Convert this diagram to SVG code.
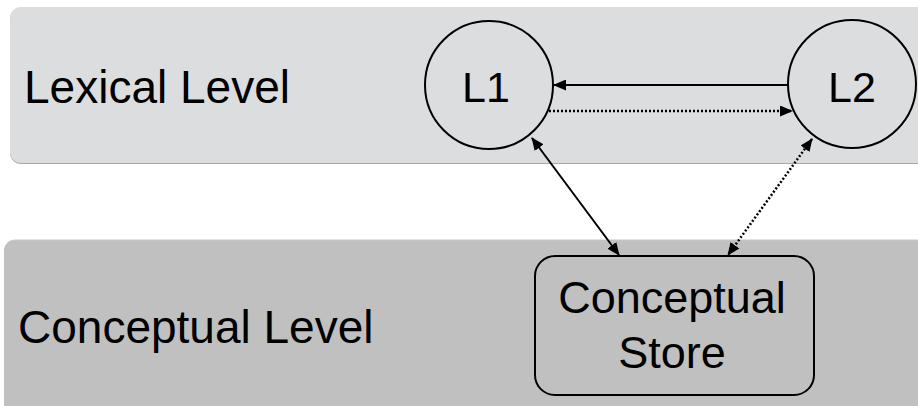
<svg xmlns="http://www.w3.org/2000/svg" width="918" height="406" viewBox="0 0 918 406">
<defs>
<marker id="ah" markerWidth="13" markerHeight="11" refX="12" refY="5.5" orient="auto-start-reverse" markerUnits="userSpaceOnUse">
<path d="M0,0 L13,5.5 L0,11 Z" fill="#000"/>
</marker>
<style>
.lbl{font-family:"Liberation Sans",Arial,Helvetica,sans-serif;fill:#000}
.node{fill:none;stroke:#000;stroke-width:2}
.ln{stroke:#000;stroke-width:2;fill:none}
.dot{stroke:#000;stroke-width:2.5;fill:none;stroke-dasharray:2 2}
</style>
</defs>
<rect width="918" height="406" fill="#fff"/>
<g id="lexical-band">
<rect x="10" y="8" width="930" height="156" rx="11" fill="#a8a8a8"/>
<rect x="10" y="7" width="930" height="156" rx="11" fill="#dcdddf"/>
<text class="lbl" x="24" y="103" font-size="46">Lexical Level</text>
</g>
<g id="conceptual-band">
<rect x="4" y="239.5" width="940" height="190" rx="11" fill="#c8c8c8"/>
<rect x="4" y="240.5" width="940" height="190" rx="11" fill="#c0c0c0"/>
<text class="lbl" x="18" y="343" font-size="46">Conceptual Level</text>
</g>
<g id="L1">
<circle class="node" cx="489" cy="85" r="64"/>
<text class="lbl" x="486" y="102" font-size="43" text-anchor="middle">L1</text>
</g>
<g id="L2">
<circle class="node" cx="852" cy="84" r="64"/>
<text class="lbl" x="852" y="102" font-size="43" text-anchor="middle">L2</text>
</g>
<g id="store">
<rect class="node" x="535" y="256" width="279" height="139" rx="20" fill="#c0c0c0"/>
<text class="lbl" x="672" y="313" font-size="45" text-anchor="middle">Conceptual</text>
<text class="lbl" x="672" y="368" font-size="45" text-anchor="middle">Store</text>
</g>
<g id="connectors">
<line class="ln" x1="788" y1="85" x2="554" y2="85" marker-end="url(#ah)"/>
<line class="dot" x1="549" y1="111" x2="792" y2="111" marker-end="url(#ah)"/>
<line class="ln" x1="532" y1="138" x2="619" y2="255" marker-start="url(#ah)" marker-end="url(#ah)"/>
<line class="dot" x1="812" y1="139" x2="728" y2="255" marker-start="url(#ah)" marker-end="url(#ah)"/>
</g>
</svg>
